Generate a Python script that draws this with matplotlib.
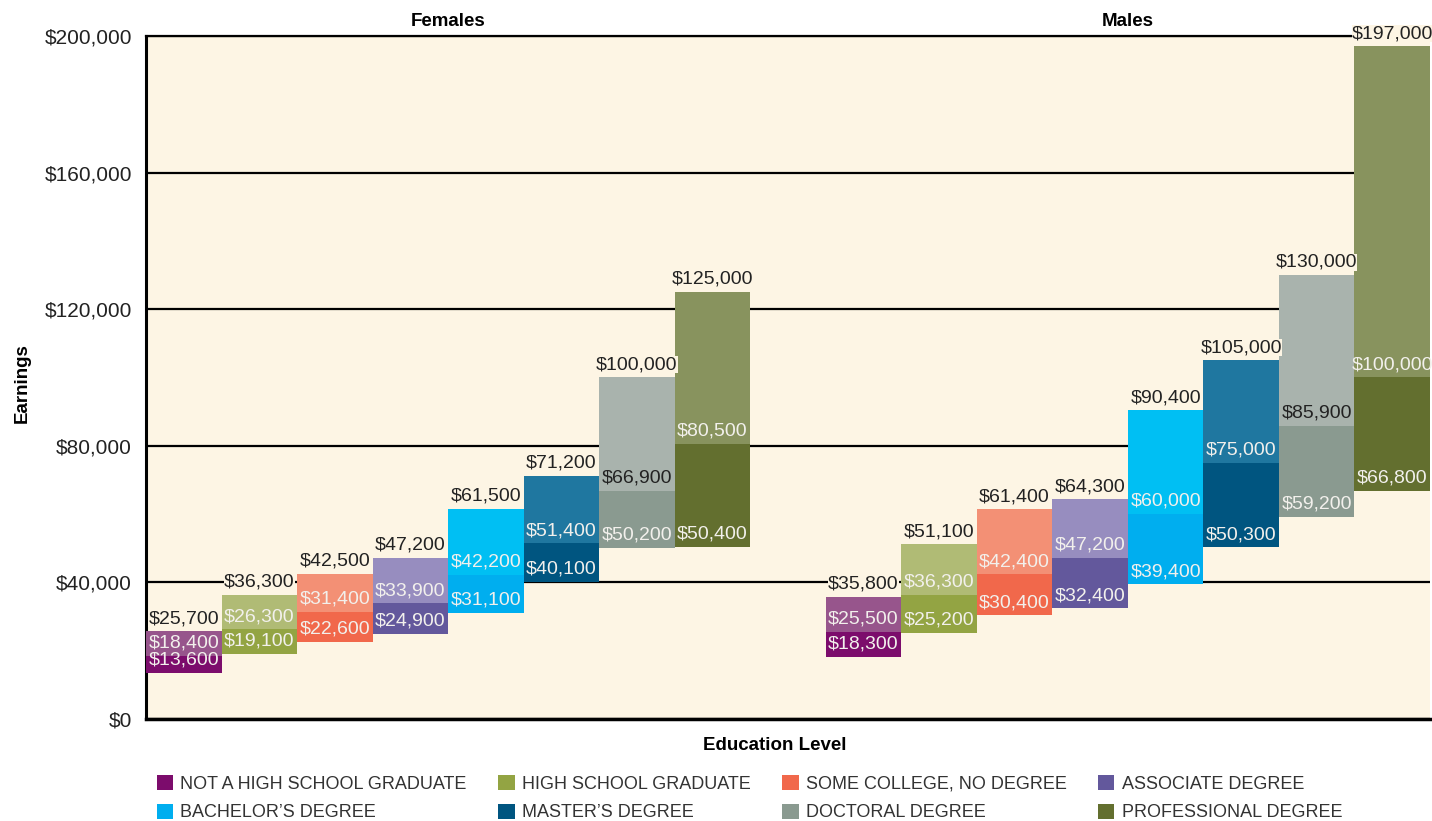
import numpy as np
import matplotlib.pyplot as plt
from matplotlib.patches import Patch
from matplotlib.transforms import blended_transform_factory

# Niveles educativos (orden de la leyenda)
niveles = ['NOT A HIGH SCHOOL GRADUATE', 'HIGH SCHOOL GRADUATE', 'SOME COLLEGE, NO DEGREE',
           'ASSOCIATE DEGREE', 'BACHELOR\u2019S DEGREE', 'MASTER\u2019S DEGREE',
           'DOCTORAL DEGREE', 'PROFESSIONAL DEGREE']

# Percentiles 25, mediana y 75 - mujeres
mujeres_p25 = [13600, 19100, 22600, 24900, 31100, 40100, 50200, 50400]
mujeres_med = [18400, 26300, 31400, 33900, 42200, 51400, 66900, 80500]
mujeres_p75 = [25700, 36300, 42500, 47200, 61500, 71200, 100000, 125000]

# Percentiles 25, mediana y 75 - hombres
hombres_p25 = [18300, 25200, 30400, 32400, 39400, 50300, 59200, 66800]
hombres_med = [25500, 36300, 42400, 47200, 60000, 75000, 85900, 100000]
hombres_p75 = [35800, 51100, 61400, 64300, 90400, 105000, 130000, 197000]

grupos = ['Females', 'Males']
ticks_y = [0, 40000, 80000, 120000, 160000, 200000]

# Colores: tramo inferior (oscuro) y superior (claro)
oscuros = ['#7c0c6c', '#93a443', '#f1684b', '#63589c', '#00aeef', '#005580', '#8a9a90', '#636f2f']
claros = ['#97558c', '#b0bb75', '#f39075', '#978dbf', '#00bff3', '#1f77a0', '#a9b3ad', '#88935e']
fondo = '#fdf5e4'
blanco = '#f2f0ec'
negro = '#222222'

plt.rcParams['font.family'] = ['Liberation Sans', 'DejaVu Sans']

W, H = 1432, 821
fig = plt.figure(figsize=(W / 100, H / 100), dpi=100)
ax = fig.add_axes([146 / W, 1 - 719 / H, (1430 - 146) / W, (719 - 36) / H])
ax.set_facecolor(fondo)

def etiqueta(x, v, color, caja=False):
    kw = dict(xytext=(0, 3), textcoords='offset points', ha='center', va='bottom',
              fontsize=14, color=color, zorder=5)
    if caja:
        kw['bbox'] = dict(facecolor=fondo, edgecolor='none', pad=0)
    ax.annotate(f'${v:,}', (x, v), **kw)

datos = [(np.arange(8), mujeres_p25, mujeres_med, mujeres_p75),
         (np.arange(9, 17), hombres_p25, hombres_med, hombres_p75)]

for xs, p25, med, p75 in datos:
    p25, med, p75 = np.array(p25), np.array(med), np.array(p75)
    ax.bar(xs, med - p25, bottom=p25, width=1, color=oscuros, zorder=3)
    ax.bar(xs, p75 - med, bottom=med, width=1, color=claros, zorder=3)
    for i, x in enumerate(xs):
        etiqueta(x, p25[i], blanco)
        etiqueta(x, med[i], negro if i == 6 else blanco)
        etiqueta(x, p75[i], negro, caja=True)

ax.set_xlim(-0.5, 16.5)
ax.set_ylim(0, 200000)
ax.set_xticks([])
ax.set_yticks(ticks_y)
ax.set_yticklabels([f'${v:,}' for v in ticks_y], fontsize=15, color=negro)
ax.tick_params(axis='y', length=0, pad=10)
ax.yaxis.grid(True, color='black', lw=1.6)
ax.set_axisbelow(True)
ax.spines['right'].set_visible(False)
ax.spines['top'].set_linewidth(1.6)
ax.spines['left'].set_linewidth(2.2)
ax.spines['bottom'].set_linewidth(2.5)

# Titulos de grupo
tr = blended_transform_factory(ax.transData, fig.transFigure)
for centro, nombre in zip([3.5, 12.5], grupos):
    ax.text(centro, 1 - 22 / H, nombre, transform=tr, ha='center', va='center',
            fontsize=13.5, fontweight='bold', color='black')

fig.text(775 / W, 1 - 745 / H, 'Education Level', ha='center', va='center',
         fontsize=13.5, fontweight='bold')
fig.text(22 / W, 1 - 383 / H, 'Earnings', ha='center', va='center', rotation=90,
         fontsize=13.5, fontweight='bold')

# Leyenda (orden por filas)
orden = [0, 4, 1, 5, 2, 6, 3, 7]
handles = [Patch(facecolor=oscuros[i], edgecolor='none') for i in orden]
labels = [niveles[i] for i in orden]
fig.legend(handles, labels, loc='upper left', bbox_to_anchor=(157 / W, 1 - 775 / H),
           ncol=4, frameon=False, borderpad=0, borderaxespad=0,
           handlelength=0.9, handleheight=0.9, handletextpad=0.4,
           columnspacing=1.75, labelspacing=0.6,
           prop={'size': 13}, labelcolor='#333333')

fig.savefig('out.png', dpi=100)
